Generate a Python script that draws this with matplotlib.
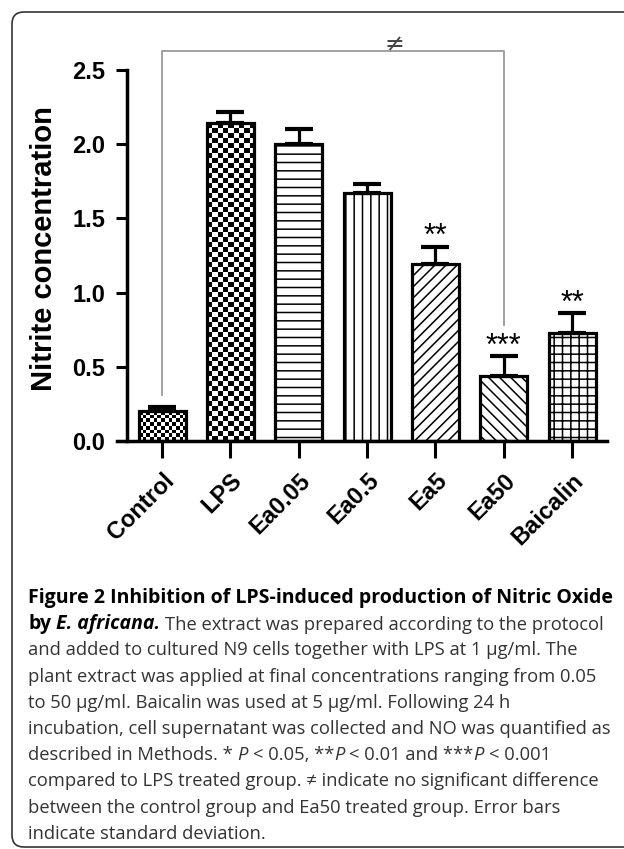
import matplotlib
matplotlib.use("Agg")
import matplotlib.pyplot as plt
import numpy as np
from matplotlib.patches import FancyBboxPatch
from matplotlib.transforms import IdentityTransform

groups = ["Control", "LPS", "Ea0.05", "Ea0.5", "Ea5", "Ea50", "Baicalin"]
means = [0.20, 2.14, 2.00, 1.67, 1.19, 0.44, 0.73]
sds = [0.03, 0.08, 0.10, 0.06, 0.12, 0.13, 0.13]
stars = ["", "", "", "", "**", "***", "**"]
hatches = [None, None, "--", "||", "///", "\\\\\\", "++"]
checker_px = [3.5, 5.0, None, None, None, None, None]  # checkerboard square size
ne_pair = (0, 5)          # control vs Ea50, bracket
ne_drop = [0.31, 0.78]    # where the bracket legs stop
ne_top = 2.63
yticks = [0, 0.5, 1.0, 1.5, 2.0, 2.5]

caption = [
    [("Figure 2 Inhibition of LPS-induced production of Nitric Oxide", "bold", "normal")],
    [("by", "bold", "normal"), ("E. africana.", "bold", "italic"),
     ("The extract was prepared according to the protocol", "normal", "normal")],
    [("and added to cultured N9 cells together with LPS at 1 \u03bcg/ml. The", "normal", "normal")],
    [("plant extract was applied at final concentrations ranging from 0.05", "normal", "normal")],
    [("to 50 \u03bcg/ml. Baicalin was used at 5 \u03bcg/ml. Following 24 h", "normal", "normal")],
    [("incubation, cell supernatant was collected and NO was quantified as", "normal", "normal")],
    [("described in Methods. *", "normal", "normal"), ("P", "normal", "italic"),
     ("< 0.05, **", "normal", "normal"), ("P", "normal", "italic", 0),
     ("< 0.01 and ***", "normal", "normal"), ("P", "normal", "italic", 0),
     ("< 0.001", "normal", "normal")],
    [("compared to LPS treated group. \u2260 indicate no significant difference", "normal", "normal")],
    [("between the control group and Ea50 treated group. Error bars", "normal", "normal")],
    [("indicate standard deviation.", "normal", "normal")],
]

plt.rcParams["font.family"] = ["Liberation Sans", "DejaVu Sans"]
plt.rcParams["hatch.linewidth"] = 1.1

W, H = 624, 849
fig = plt.figure(figsize=(W / 100, H / 100), dpi=100)
ax = fig.add_axes([117 / W, 1 - 441 / H, 490 / W, 371 / H])
ax.spines["top"].set_visible(False)
ax.spines["right"].set_visible(False)
ax.spines["left"].set_position(("data", -0.51))
ax.spines["left"].set_linewidth(2.5)
ax.spines["bottom"].set_linewidth(2.5)

x = np.arange(len(groups))
bars = ax.bar(x, means, width=0.69, color="white", edgecolor="black",
              linewidth=2.3, zorder=2)
for b, h in zip(bars, hatches):
    if h:
        b.set_hatch(h)

# checkerboard fills for Control and LPS
ppu_x = 68.3
ppu_y = 148.4
for b, s in zip(bars, checker_px):
    if s is None:
        continue
    b.set_facecolor("none")
    bx, bw, bh = b.get_x(), b.get_width(), b.get_height()
    nx = int(round(bw * ppu_x / s))
    ny = int(round(bh * ppu_y / s))
    tex = (np.add.outer(np.arange(ny), np.arange(nx)) % 2).astype(float)
    im = ax.imshow(tex, cmap="gray", extent=[bx, bx + bw, 0, bh], aspect="auto",
                   interpolation="nearest", zorder=1.9)
    im.set_clip_path(b)

ax.errorbar(x, means, yerr=[np.zeros(len(sds)), sds], fmt="none", ecolor="black",
            elinewidth=2.3, capsize=10, capthick=3, zorder=3)

for xi, m, s, st in zip(x, means, sds, stars):
    if st:
        ax.text(xi, m + s - 0.035, st, ha="center", va="bottom", fontsize=22,
                zorder=4)

# significance bracket
a, c = ne_pair
ax.plot([a, a, c, c], [ne_drop[0], ne_top, ne_top, ne_drop[1]], color="#9a9a9a",
        lw=1.3, clip_on=False, zorder=1)
ax.text(3.4, ne_top + 0.045, "\u2260", ha="center", va="center", fontsize=17,
        color="#444444", family="DejaVu Sans", clip_on=False)

ax.set_ylim(0, 2.5)
ax.set_xlim(-0.66, 6.51)
ax.set_yticks(yticks)
ax.set_yticklabels([f"{t:.1f}" for t in yticks], fontsize=17, fontweight="bold")
ax.set_xticks(x)
ax.set_xticklabels(groups, rotation=45, ha="right", rotation_mode="anchor",
                   fontsize=17, fontweight="bold")
ax.tick_params(axis="y", length=8, width=2.2, pad=8)
ax.tick_params(axis="x", length=12, width=2.2, pad=8)
ax.set_ylabel("Nitrite concentration", fontsize=21, fontweight="bold")
ax.yaxis.set_label_coords(58 / W, 1 - 249 / H, transform=fig.transFigure)

# caption
fs = 13.2
fs_bold = 14.0
y0 = 603
step = 26.2
gap = 4.8
for i, line in enumerate(caption):
    last = None
    for seg in line:
        txt, wt, st = seg[:3]
        g = seg[3] if len(seg) > 3 else gap
        col = "black" if wt == "bold" else "#333333"
        size = fs_bold if wt == "bold" else fs
        if last is None:
            last = fig.text(28 / W, 1 - (y0 + i * step) / H, txt, fontsize=size,
                            fontweight=wt, style=st, family="Open Sans",
                            color=col, va="baseline", ha="left")
        else:
            last = ax.annotate(txt, xy=(1, 0), xycoords=last,
                               xytext=(g, 0), textcoords="offset pixels",
                               fontsize=size, fontweight=wt, style=st,
                               family="Open Sans", color=col,
                               va="bottom", ha="left", annotation_clip=False)

# frame
frame = FancyBboxPatch((12, 2), 700, 835, boxstyle="round,pad=0,rounding_size=12",
                       transform=IdentityTransform(), fill=False,
                       edgecolor="#333333", linewidth=1.2)
fig.add_artist(frame)

fig.savefig("out.png", dpi=100)
